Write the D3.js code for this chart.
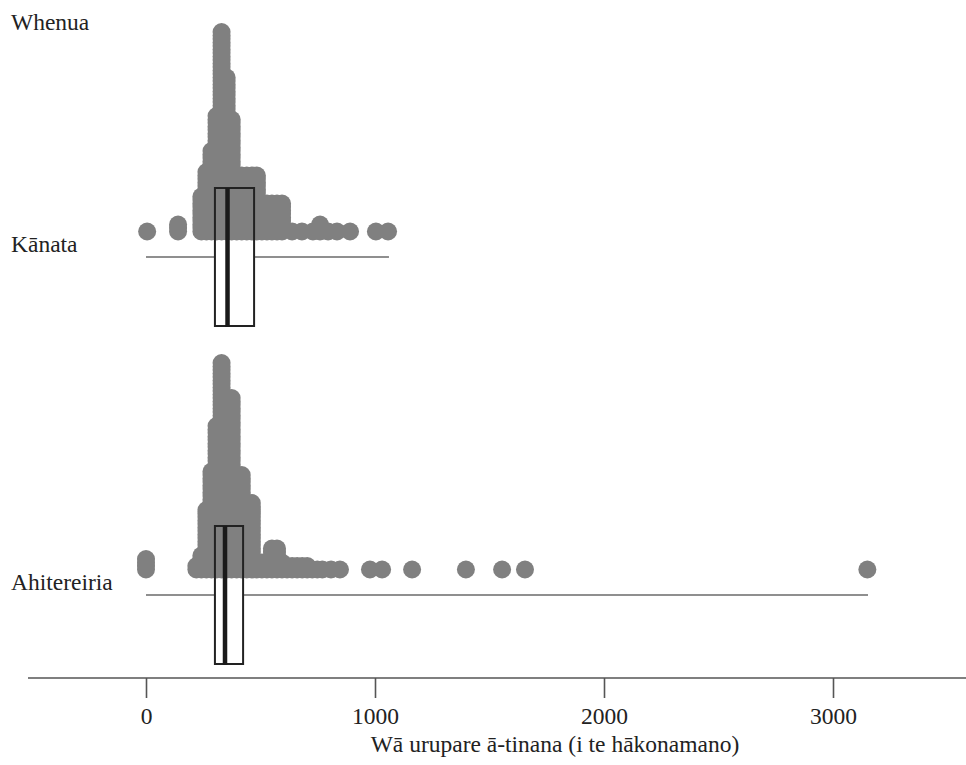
<!DOCTYPE html>
<html>
<head>
<meta charset="utf-8">
<script src="https://cdn.jsdelivr.net/npm/d3@7"></script>
<style>
  html, body { margin: 0; padding: 0; background: #fff; }
  svg { display: block; }
  text { font-family: "Liberation Serif", "DejaVu Serif", serif; fill: #222; }
</style>
</head>
<body>
<svg id="chart" width="966" height="765"></svg>
<script>
// ---- data ----
const groups = ["Kānata", "Ahitereiria"];
const headerLabel = "Whenua";
const axisTitle = "Wā urupare ā-tinana (i te hākonamano)";
const tickValues = [0, 1000, 2000, 3000];

// dot columns: value (minutes) and number of stacked dots
const canadaValues = [5, 140, 242, 264, 286, 308, 330, 352, 374, 396, 418, 440, 462, 484, 506, 528, 550, 572, 594, 638, 681, 729, 760, 795, 834, 891, 1004, 1057];
const canadaCounts = [1, 3, 11, 18, 24, 34, 58, 45, 33, 17, 17, 17, 17, 17, 9, 9, 9, 9, 9, 1, 1, 1, 3, 1, 1, 1, 1, 1];

const australiaValues = [0, 220, 242, 264, 286, 308, 330, 352, 374, 396, 418, 440, 462, 484, 506, 528, 550, 572, 594, 616, 638, 660, 682, 704, 726, 748, 770, 808, 847, 978, 1031, 1162, 1397, 1555, 1655, 3150];
const australiaCounts = [4, 2, 5, 18, 29, 42, 60, 50, 50, 28, 28, 20, 20, 3, 3, 3, 7, 7, 3, 2, 2, 2, 2, 2, 1, 1, 1, 1, 1, 1, 1, 1, 1, 1, 1, 1];

// box-plot summaries: [min, q1, median, q3, max]
const canadaBox = [0, 301, 356, 472, 1061];
const australiaBox = [0, 301, 345, 424, 3153];

const dotValues = [canadaValues, australiaValues];
const dotCounts = [canadaCounts, australiaCounts];
const boxStats = [canadaBox, australiaBox];

// ---- layout ----
const svg = d3.select("#chart");
const x = d3.scaleLinear().domain([0, 1000]).range([146, 375]);
const y = d3.scalePoint().domain(groups).range([257, 595]);
const dotR = 9, dotStep = 3.5, dotOffset = 25.5, boxHalf = 69;
const axisY = 678;
const fs = 23.5;

const g = svg.append("g");

groups.forEach((grp, gi) => {
  const cy = y(grp);
  const base = cy - dotOffset;
  const [mn, q1, md, q3, mx] = boxStats[gi];

  // whisker line (min to max)
  g.append("line")
    .attr("x1", x(mn)).attr("x2", x(mx))
    .attr("y1", cy).attr("y2", cy)
    .attr("stroke", "#6a6a6a").attr("stroke-width", 1.5);

  // box fill (white) under dots
  g.append("rect")
    .attr("x", x(q1)).attr("y", cy - boxHalf)
    .attr("width", x(q3) - x(q1)).attr("height", boxHalf * 2)
    .attr("fill", "#fff");

  // dots
  const pts = [];
  dotValues[gi].forEach((v, i) => {
    for (let k = 0; k < dotCounts[gi][i]; k++) pts.push({ v, k });
  });
  g.append("g").selectAll("circle").data(pts).join("circle")
    .attr("cx", d => x(d.v))
    .attr("cy", d => base - d.k * dotStep)
    .attr("r", dotR)
    .attr("fill", "#808080");

  // box outline
  g.append("rect")
    .attr("x", x(q1)).attr("y", cy - boxHalf)
    .attr("width", x(q3) - x(q1)).attr("height", boxHalf * 2)
    .attr("fill", "none").attr("stroke", "#222").attr("stroke-width", 2);

  // median
  g.append("line")
    .attr("x1", x(md)).attr("x2", x(md))
    .attr("y1", cy - boxHalf).attr("y2", cy + boxHalf + 1)
    .attr("stroke", "#1a1a1a").attr("stroke-width", 4.5);

  // group label
  svg.append("text")
    .attr("x", 11).attr("y", cy - 5)
    .attr("font-size", fs)
    .text(grp);
});

// header
svg.append("text").attr("x", 11).attr("y", 30).attr("font-size", fs).text(headerLabel);

// x axis
const axis = d3.axisBottom(x).tickValues(tickValues).tickSize(20).tickPadding(9).tickFormat(d3.format("d"));
const ax = svg.append("g").attr("transform", `translate(0,${axisY})`).call(axis);
ax.select(".domain").remove();
ax.append("line").attr("x1", 28).attr("x2", 966).attr("y1", 0).attr("y2", 0)
  .attr("stroke", "#555").attr("stroke-width", 1.6);
ax.selectAll(".tick line").attr("stroke", "#555").attr("stroke-width", 1.6);
ax.selectAll(".tick text")
  .attr("font-family", "'Liberation Serif', serif")
  .attr("font-size", fs).attr("fill", "#222");

svg.append("text")
  .attr("x", 555).attr("y", 752)
  .attr("text-anchor", "middle").attr("font-size", fs)
  .text(axisTitle);
</script>
</body>
</html>
